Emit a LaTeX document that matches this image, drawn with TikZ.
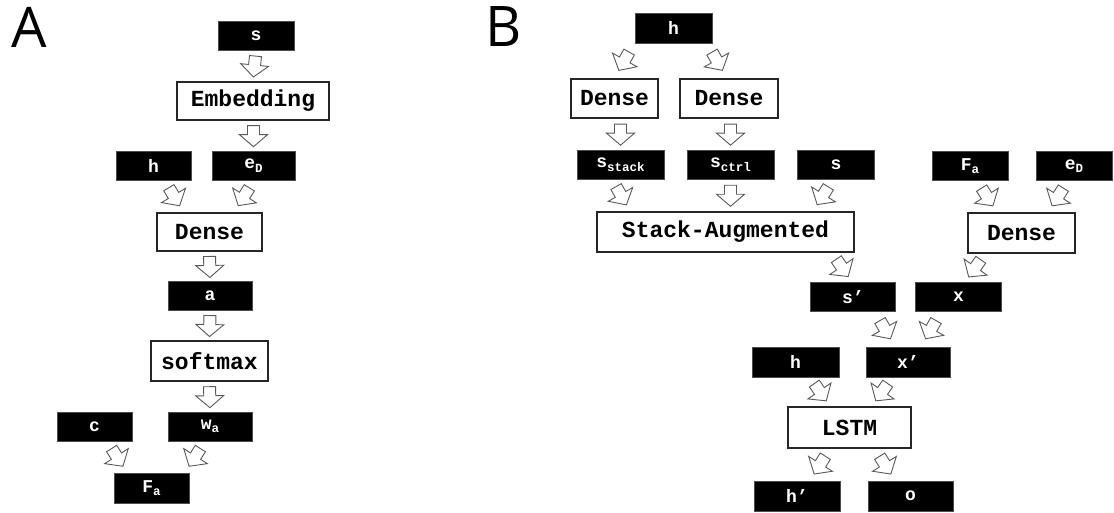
\documentclass[tikz,border=0pt]{standalone}
\usepackage{fontspec}
\setmonofont{Liberation Mono}
\newfontfamily\labfont{Open Sans}
\usetikzlibrary{decorations.markings}
\newcommand{\sbs}[1]{\raisebox{-3.5pt}{\fontsize{12.5}{12.5}\selectfont #1}}
\begin{document}
\begin{tikzpicture}[x=1pt,y=-1pt,
 lbl/.style={fill=black, draw=black!70, line width=0.6pt, text=white,
   font=\ttfamily\bfseries\fontsize{18}{18}\selectfont, minimum height=29, inner sep=0},
 op/.style={draw=black!85, line width=1.4pt, fill=white,
   font=\ttfamily\bfseries\fontsize{23}{23}\selectfont, inner sep=0},
 arrowshape/.style={draw=black!65, fill=white, line width=0.9pt, line join=miter},
 barrow/.style={postaction={decorate}, decoration={markings,
   mark=at position 0.5 with {\draw[arrowshape] (-10,-6) -- (-1,-6) -- (-1,-14) -- (11,0)
     -- (-1,14) -- (-1,6) -- (-10,6) -- cycle;}}},
 panel/.style={font=\labfont\fontsize{56}{56}\selectfont, anchor=base west, inner sep=0}
]
\useasboundingbox (0,0) rectangle (1114,513);

% ---------- Panel A ----------
\node[panel] (labA) at (11,48) {A};
\node[lbl, minimum width=76] (sA) at (256,36) {s};
\node[op, minimum width=152, minimum height=38] (embA) at (253,101) {Embedding};
\node[lbl, minimum width=75] (hA) at (153.5,165.5) {h};
\node[lbl, minimum width=83] (eA) at (253.5,165.5) {e\sbs{D}};
\node[op, minimum width=105, minimum height=38] (denseA) at (209.5,232) {Dense};
\node[lbl, minimum width=84] (aA) at (210,296) {a};
\node[op, minimum width=117, minimum height=40] (softA) at (209.5,361) {softmax};
\node[lbl, minimum width=75] (cA) at (94.5,426.5) {c};
\node[lbl, minimum width=84] (wA) at (210,426.5) {w\sbs{a}};
\node[lbl, minimum width=75, minimum height=30] (FA) at (151.5,488) {F\sbs{a}};

\path[barrow] (sA.south) -- (embA.north);
\path[barrow] (embA.south -| eA) -- (eA.north);
\path[barrow] ([xshift=11]hA.south) -- ([xshift=-26]denseA.north);
\path[barrow] ([xshift=0.5]eA.south) -- ([xshift=24.5]denseA.north);
\path[barrow] (denseA.south) -- (aA.north);
\path[barrow] (aA.south) -- (softA.north);
\path[barrow] (softA.south) -- (wA.north);
\path[barrow] ([xshift=12.5]cA.south) -- ([xshift=-24.5]FA.north);
\path[barrow] ([xshift=-5]wA.south) -- ([xshift=33.5]FA.north);

% ---------- Panel B ----------
\node[panel] (labB) at (485,47) {B};
\node[lbl, minimum width=77, minimum height=30] (hB) at (673.5,28) {h};
\node[op, minimum width=87, minimum height=39] (d1) at (614.5,98.5) {Dense};
\node[op, minimum width=98, minimum height=39] (d2) at (729,98.5) {Dense};
\node[lbl, minimum width=87] (sst) at (620.5,164.5) {s\sbs{stack}};
\node[lbl, minimum width=87] (sct) at (730.5,164.5) {s\sbs{ctrl}};
\node[lbl, minimum width=77] (sB) at (836,164.5) {s};
\node[op, minimum width=257, minimum height=40] (SA) at (725.5,232) {Stack-Augmented};
\node[lbl, minimum width=76] (FaB) at (970,166) {F\sbs{a}};
\node[lbl, minimum width=76] (eB) at (1074,166) {e\sbs{D}};
\node[op, minimum width=107, minimum height=40] (d3) at (1021.5,233) {Dense};
\node[lbl, minimum width=85] (sp) at (853,297) {s’};
\node[lbl, minimum width=86] (xB) at (958.5,297) {x};
\node[lbl, minimum width=87, minimum height=30] (hL) at (795.5,362) {h};
\node[lbl, minimum width=84, minimum height=30] (xp) at (908,362) {x’};
\node[op, minimum width=123, minimum height=41] (lstm) at (849.5,427.5) {LSTM};
\node[lbl, minimum width=86, minimum height=30] (hp) at (797,496) {h’};
\node[lbl, minimum width=85, minimum height=30] (oB) at (910.5,496) {o};

\path[barrow] ([xshift=-39.5]hB.south) -- (d1.north);
\path[barrow] ([xshift=33.5]hB.south) -- ([xshift=-2]d2.north);
\path[barrow] (d1.south -| sst) -- (sst.north);
\path[barrow] (d2.south -| sct) -- (sct.north);
\path[barrow] ([xshift=-8.5]sst.south) -- ([xshift=-95.5]SA.north);
\path[barrow] (sct.south) -- (sct.south |- SA.north);
\path[barrow] ([xshift=-3]sB.south) -- ([xshift=87.5]SA.north);
\path[barrow] ([xshift=7]FaB.south) -- ([xshift=-24.5]d3.north);
\path[barrow] ([xshift=-6]eB.south) -- ([xshift=26.5]d3.north);
\path[barrow] ([xshift=106.5]SA.south) -- ([xshift=-1]sp.north);
\path[barrow] ([xshift=-36.5]d3.south) -- ([xshift=6.5]xB.north);
\path[barrow] ([xshift=22]sp.south) -- ([xshift=-13]xp.north);
\path[barrow] ([xshift=-17.5]xB.south) -- ([xshift=13]xp.north);
\path[barrow] ([xshift=14.5]hL.south) -- ([xshift=-19.5]lstm.north);
\path[barrow] ([xshift=-16]xp.south) -- ([xshift=22.5]lstm.north);
\path[barrow] ([xshift=-19.5]lstm.south) -- ([xshift=13]hp.north);
\path[barrow] ([xshift=25.5]lstm.south) -- ([xshift=-15.5]oB.north);
\end{tikzpicture}
\end{document}
